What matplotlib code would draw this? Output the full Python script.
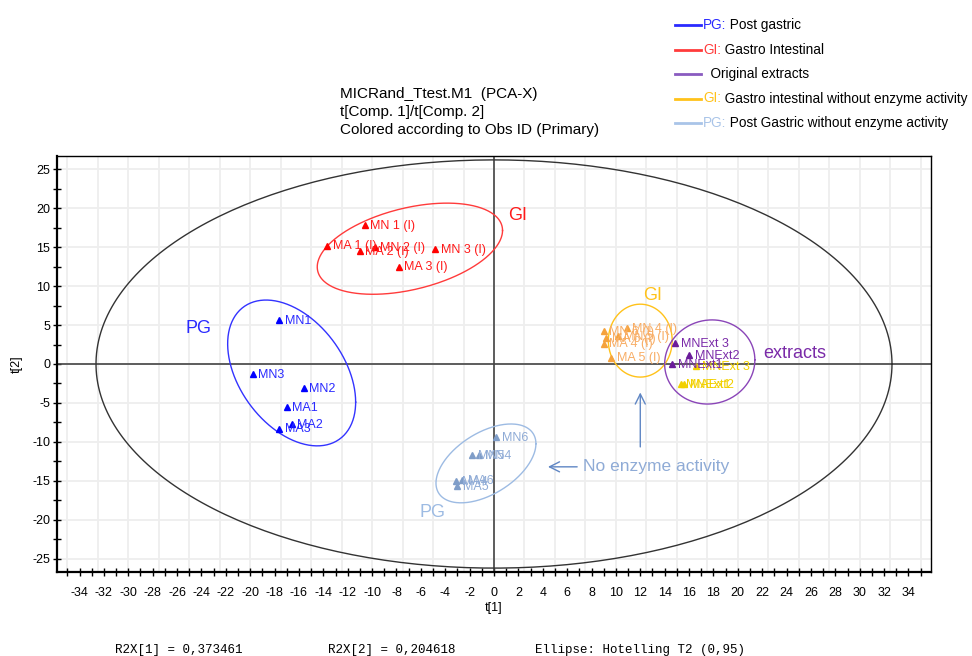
import numpy as np
import matplotlib.pyplot as plt
from matplotlib.lines import Line2D
from matplotlib.ticker import MultipleLocator

plt.rcParams['font.family'] = ['Liberation Sans', 'DejaVu Sans']
plt.rcParams['axes.unicode_minus'] = False

# PG: post gastric
pg_names = ['MN1', 'MN3', 'MN2', 'MA1', 'MA2', 'MA3']
pg_x = [-17.6, -19.8, -15.6, -17.0, -16.6, -17.6]
pg_y = [5.6, -1.3, -3.1, -5.5, -7.7, -8.3]

# GI: gastro intestinal
gi_names = ['MN 1 (I)', 'MA 1 (I)', 'MA 2 (I)', 'MN 2 (I)', 'MN 3 (I)', 'MA 3 (I)']
gi_x = [-10.6, -13.7, -11.0, -9.8, -4.8, -7.8]
gi_y = [17.8, 15.2, 14.5, 15.0, 14.7, 12.5]

# PG without enzyme activity
pgn_names = ['MN6', 'MN5', 'MN4', 'MA4', 'MA6', 'MA5']
pgn_x = [0.2, -1.8, -1.2, -3.1, -2.6, -3.0]
pgn_y = [-9.4, -11.7, -11.7, -15.0, -14.9, -15.7]

# GI without enzyme activity
gin_names = ['MN 4 (I)', 'MN 6 (I)', 'MN 5 (I)', 'MA 6 (I)', 'MA 4 (I)', 'MA 5 (I)']
gin_x = [10.9, 9.0, 10.2, 9.2, 9.0, 9.6]
gin_y = [4.6, 4.2, 3.6, 3.3, 2.6, 0.8]

ext2_names = ['MNExt 3', 'MNExt1', 'MAExt2']
ext2_x = [16.6, 15.3, 15.6]
ext2_y = [-0.3, -2.6, -2.6]

# original extracts
ext_names = ['MNExt 3', 'MNExt2', 'MNExt1']
ext_x = [14.85, 16.0, 14.6]
ext_y = [2.7, 1.15, 0.0]

# ellipses: centre x, centre y, half width, half height, correlation
ell_pg = [-16.6, -1.15, 5.25, 9.36, -0.4]
ell_gi = [-6.9, 14.8, 7.6, 5.85, 0.4]
ell_pgn = [-0.66, -12.76, 4.1, 5.06, 0.5]
ell_gin = [12.0, 3.0, 2.62, 4.68, 0.0]
ell_ext = [17.7, 0.26, 3.7, 5.4, 0.05]
ell_t2 = [0.0, 0.0, 32.65, 26.2, 0.0]


def draw_ellipse(ax, e, color, lw=1.0):
    t = np.linspace(0, 2 * np.pi, 300)
    cx, cy, hx, hy, r = e
    ex = cx + hx * np.cos(t)
    ey = cy + hy * (r * np.cos(t) + np.sqrt(1 - r * r) * np.sin(t))
    ax.plot(ex, ey, color=color, lw=lw, zorder=3)


def draw_group(ax, xs, ys, names, mcolor, tcolor):
    ax.plot(xs, ys, '^', color=mcolor, ms=5, zorder=5, ls='none')
    for x, y, n in zip(xs, ys, names):
        ax.annotate(n, (x, y), xytext=(4, -0.5), textcoords='offset points',
                    fontsize=9, color=tcolor, va='center', zorder=6)


fig = plt.figure(figsize=(9.72, 6.56), dpi=100)
ax = fig.add_axes([57 / 972, 84 / 656, 874 / 972, 416 / 656])
ax.set_xlim(-35.85, 35.85)
ax.set_ylim(-26.7, 26.7)

for gx in np.arange(-35, 35.1, 2.5):
    ax.axvline(gx, color='#eeeeee', lw=1.3, zorder=0)
for gy in np.arange(-25, 25.1, 5):
    ax.axhline(gy, color='#eeeeee', lw=1.3, zorder=0)
ax.axhline(0, color='#444444', lw=1.2, zorder=2)
ax.axvline(0, color='#444444', lw=1.2, zorder=2)

draw_ellipse(ax, ell_t2, '#333333', 1.0)
draw_ellipse(ax, ell_pg, '#3333ff')
draw_ellipse(ax, ell_gi, '#ff3b3b')
draw_ellipse(ax, ell_pgn, '#9dbbe3')
draw_ellipse(ax, ell_gin, '#ffc21a')
draw_ellipse(ax, ell_ext, '#8a45b8')

draw_group(ax, pg_x, pg_y, pg_names, '#0000ff', '#2a2aff')
draw_group(ax, gi_x, gi_y, gi_names, '#ff0000', '#ff1a1a')
draw_group(ax, pgn_x, pgn_y, pgn_names, '#7f9dc8', '#8fabd6')
draw_group(ax, gin_x, gin_y, gin_names, '#f5a23c', '#f8ad65')
draw_group(ax, ext2_x, ext2_y, ext2_names, '#f2d000', '#f2d000')
draw_group(ax, ext_x, ext_y, ext_names, '#6a1b9a', '#7a2aa8')

# group labels
ax.text(-25.3, 4.6, 'PG', color='#2a2aff', fontsize=13, va='center')
ax.text(1.15, 19.0, 'GI', color='#ff1a1a', fontsize=13, va='center')
ax.text(12.2, 8.8, 'GI', color='#ffc21a', fontsize=13, va='center')
ax.text(22.1, 1.4, 'extracts', color='#7a2aa8', fontsize=13, va='center')
ax.text(-6.1, -19.0, 'PG', color='#9dbbe3', fontsize=13, va='center')
ax.text(7.3, -13.2, 'No enzyme activity', color='#8fabd6', fontsize=12.5, va='center')
ax.annotate('', xy=(4.2, -13.2), xytext=(7.05, -13.2),
            arrowprops=dict(arrowstyle='->', color='#5f86c4', lw=1.0, mutation_scale=18))
ax.annotate('', xy=(12.0, -3.3), xytext=(12.0, -11.0),
            arrowprops=dict(arrowstyle='->', color='#5f86c4', lw=1.0, mutation_scale=18))

ax.xaxis.set_major_locator(MultipleLocator(2))
ax.xaxis.set_minor_locator(MultipleLocator(1))
ax.yaxis.set_major_locator(MultipleLocator(5))
ax.yaxis.set_minor_locator(MultipleLocator(2.5))
ax.tick_params(which='both', direction='inout', length=6, width=1, labelsize=9, pad=8)
ax.tick_params(axis='y', pad=2)
for s in ['left', 'bottom']:
    ax.spines[s].set_linewidth(1.6)
for s in ['top', 'right']:
    ax.spines[s].set_linewidth(1.0)

fig.text(494 / 972, 1 - 608 / 656, 't[1]', fontsize=9, ha='center', va='center')
fig.text(17 / 972, 1 - 364 / 656, 't[2]', fontsize=9, ha='center', va='center', rotation=90)

title_lines = ['MICRand_Ttest.M1  (PCA-X)', 't[Comp. 1]/t[Comp. 2]',
               'Colored according to Obs ID (Primary)']
for i, line in enumerate(title_lines):
    fig.text(340 / 972, 1 - (94 + 18 * i) / 656, line, fontsize=11, va='center')

# legend
leg_prefix = ['PG:', 'GI:', '', 'GI:', 'PG:']
leg_text = [' Post gastric', ' Gastro Intestinal', '  Original extracts',
            ' Gastro intestinal without enzyme activity', ' Post Gastric without enzyme activity']
leg_colors = ['#2a2aff', '#ff3b3b', '#8a5bc0', '#ffc21a', '#a9c4e8']
for i in range(5):
    y = 1 - (25 + 24.5 * i) / 656
    fig.add_artist(Line2D([675 / 972, 701 / 972], [y, y], color=leg_colors[i], lw=2,
                          transform=fig.transFigure))
    p = fig.text(703 / 972, y, leg_prefix[i], color=leg_colors[i], fontsize=9.8, va='center')
    fig.add_artist(plt.Annotation(leg_text[i], xy=(1, 0.5), xycoords=p, fontsize=9.8,
                                  va='center', ha='left', color='black'))

fig.text(115 / 972, 1 - 650 / 656, 'R2X[1] = 0,373461', family='Liberation Mono', fontsize=9, va='center')
fig.text(328 / 972, 1 - 650 / 656, 'R2X[2] = 0,204618', family='Liberation Mono', fontsize=9, va='center')
fig.text(535 / 972, 1 - 650 / 656, 'Ellipse: Hotelling T2 (0,95)', family='Liberation Mono', fontsize=9, va='center')

fig.savefig('out.png', dpi=100)
